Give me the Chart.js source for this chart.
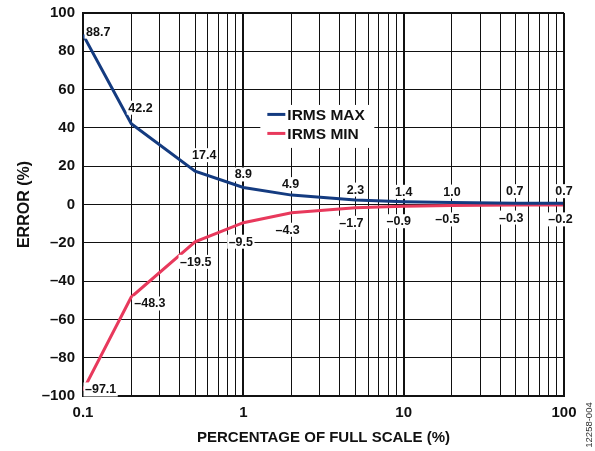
<!DOCTYPE html>
<html>
<head>
<meta charset="utf-8">
<script src="https://cdn.jsdelivr.net/npm/chart.js@4/dist/chart.umd.min.js"></script>
<style>
  html, body { margin: 0; padding: 0; background: #fff; }
  #wrap { position: relative; width: 595px; height: 451px; }
  canvas { display: block; }
</style>
</head>
<body>
<div id="wrap"><canvas id="c" width="595" height="451"></canvas></div>
<script>
// ---- data ----
const xValues = [0.1, 0.2, 0.5, 1, 2, 5, 10, 20, 50, 100];
const irmsMax = [88.7, 42.2, 17.4, 8.9, 4.9, 2.3, 1.4, 1.0, 0.7, 0.7];
const irmsMin = [-97.1, -48.3, -19.5, -9.5, -4.3, -1.7, -0.9, -0.5, -0.3, -0.2];
const xTickLabels = [0.1, 1, 10, 100];
const yTickValues = [-100, -80, -60, -40, -20, 0, 20, 40, 60, 80, 100];
const seriesNames = ['IRMS MAX', 'IRMS MIN'];

const NAVY = '#143b80';
const RED = '#e8395c';
const FONT = '"Liberation Sans", Arial, Helvetica, sans-serif';

function fmtTick(v) { return String(v).replace('-', '\u2013'); }
function fmtLabel(v) { return v.toFixed(1).replace('-', '\u2013'); }

// minor grid positions: 1..9 x each decade (grid, not data)
const xGridTicks = [];
for (let i = 0; i < xTickLabels.length - 1; i++) {
  for (let m = 1; m <= 9; m++) xGridTicks.push(+(xTickLabels[i] * m).toPrecision(3));
}
xGridTicks.push(xTickLabels[xTickLabels.length - 1]);

function isDecade(v) {
  return xTickLabels.some(d => Math.abs(d - v) < 1e-9);
}

// label placement offsets (style only)
const labelStyle = {
  0: [[3, -3, 'left'], [-3, -16, 'left'], [-3, -16, 'left'], [0, -13, 'center'], [-1, -11, 'center'],
      [0, -10.5, 'center'], [0, -10, 'center'], [0, -11, 'center'], [-1, -12, 'center'], [0, -12, 'center']],
  1: [[2, -1, 'left'], [3, 6.5, 'left'], [-15, 20, 'left'], [-2.5, 19, 'center'], [-4, 17, 'center'],
      [-4, 15, 'center'], [-5, 15, 'center'], [-4.5, 14, 'center'], [-4.5, 12.5, 'center'], [-3.5, 14.5, 'center']]
};

const frame = {
  id: 'frame',
  afterDatasetsDraw(chart) {
    const { ctx, chartArea: a } = chart;
    ctx.save();
    ctx.strokeStyle = '#111';
    ctx.lineWidth = 2;
    ctx.beginPath();
    ctx.moveTo(a.left, a.top); ctx.lineTo(a.right, a.top);
    ctx.moveTo(a.right, a.top); ctx.lineTo(a.right, a.bottom);
    ctx.stroke();
    ctx.restore();
  }
};

const pointLabels = {
  id: 'pointLabels',
  afterDatasetsDraw(chart) {
    const ctx = chart.ctx;
    ctx.save();
    ctx.font = 'bold 12.5px ' + FONT;
    ctx.textBaseline = 'middle';
    chart.data.datasets.forEach((ds, di) => {
      const meta = chart.getDatasetMeta(di);
      meta.data.forEach((pt, i) => {
        const txt = fmtLabel(ds.data[i].y);
        const [dx, dy, align] = labelStyle[di][i];
        const w = ctx.measureText(txt).width;
        let x0;
        if (align === 'left') x0 = pt.x + dx; else x0 = pt.x + dx - w / 2;
        const cy = pt.y + dy;
        ctx.fillStyle = '#fff';
        ctx.fillRect(x0 - 1.5, cy - 7, w + 3, 14);
        ctx.fillStyle = '#111';
        ctx.textAlign = 'left';
        ctx.fillText(txt, x0, cy + 0.5);
      });
    });
    ctx.restore();
  }
};

const customLegend = {
  id: 'customLegend',
  afterDraw(chart) {
    const ctx = chart.ctx;
    const xs = chart.scales.x, ys = chart.scales.y;
    ctx.save();
    const left = xs.getPixelForValue(1) + 17;
    const top = ys.getPixelForValue(52);
    ctx.fillStyle = '#fff';
    ctx.fillRect(left, top, 114, 43);
    ctx.font = 'bold 15.5px ' + FONT;
    ctx.textBaseline = 'middle';
    ctx.textAlign = 'left';
    chart.data.datasets.forEach((ds, i) => {
      const y = top + 9.5 + i * 19;
      ctx.strokeStyle = ds.borderColor;
      ctx.lineWidth = 3;
      ctx.beginPath();
      ctx.moveTo(left + 7, y);
      ctx.lineTo(left + 25, y);
      ctx.stroke();
      ctx.fillStyle = '#111';
      ctx.fillText(ds.label, left + 27, y + 1);
    });
    ctx.restore();
    // figure code at right edge
    ctx.save();
    ctx.translate(589, 425);
    ctx.rotate(-Math.PI / 2);
    ctx.font = '9.5px ' + FONT;
    ctx.fillStyle = '#333';
    ctx.textAlign = 'center';
    ctx.textBaseline = 'middle';
    ctx.fillText('12258-004', 0, 0);
    ctx.restore();
  }
};

new Chart(document.getElementById('c'), {
  type: 'line',
  data: {
    datasets: [
      { label: seriesNames[0], data: xValues.map((x, i) => ({ x, y: irmsMax[i] })),
        borderColor: NAVY, backgroundColor: NAVY, borderWidth: 3, pointRadius: 0, tension: 0 },
      { label: seriesNames[1], data: xValues.map((x, i) => ({ x, y: irmsMin[i] })),
        borderColor: RED, backgroundColor: RED, borderWidth: 3, pointRadius: 0, tension: 0 }
    ]
  },
  options: {
    responsive: false,
    animation: false,
    devicePixelRatio: 1,
    layout: { padding: { left: 0, right: 31, top: 13, bottom: 0 } },
    plugins: { legend: { display: false }, tooltip: { enabled: false } },
    scales: {
      x: {
        type: 'logarithmic',
        min: 0.1, max: 100,
        afterBuildTicks(scale) { scale.ticks = xGridTicks.map(v => ({ value: v })); },
        afterFit(scale) { scale.height = 55; scale.paddingLeft = 0; scale.paddingRight = 0; },
        ticks: {
          autoSkip: false, maxRotation: 0, minRotation: 0, padding: 8,
          color: '#111', font: { family: FONT, size: 15, weight: 'bold' },
          callback(v) { return isDecade(v) ? String(v) : ''; }
        },
        grid: {
          color: '#111',
          lineWidth: c => (c.tick && isDecade(c.tick.value)) ? 2 : 1,
          drawTicks: false
        },
        border: { display: true, color: '#111', width: 2 },
        title: { display: true, text: 'PERCENTAGE OF FULL SCALE (%)', color: '#111',
          font: { family: FONT, size: 15, weight: 'bold' }, padding: { top: 0, bottom: 4 } }
      },
      y: {
        min: -100, max: 100,
        afterBuildTicks(scale) { scale.ticks = yTickValues.map(v => ({ value: v })); },
        afterFit(scale) { scale.width = 83; scale.paddingTop = 0; scale.paddingBottom = 0; },
        ticks: {
          autoSkip: false, padding: 8, color: '#111',
          font: { family: FONT, size: 15, weight: 'bold' },
          callback(v) { return fmtTick(v); }
        },
        grid: { color: '#111', lineWidth: 1, drawTicks: false },
        border: { display: true, color: '#111', width: 2 },
        title: { display: true, text: 'ERROR (%)', color: '#111',
          font: { family: FONT, size: 16, weight: 'bold' }, padding: { top: 15, bottom: 0 } }
      }
    }
  },
  plugins: [frame, pointLabels, customLegend]
});
</script>
</body>
</html>
